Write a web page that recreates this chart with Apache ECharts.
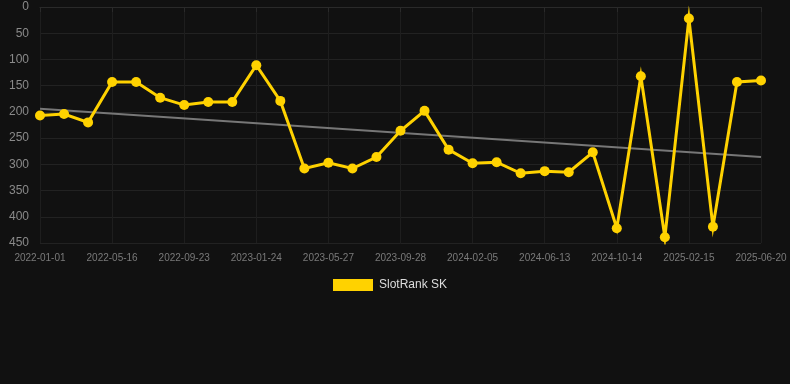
<!DOCTYPE html>
<html>
<head>
<meta charset="utf-8">
<script src="https://cdn.jsdelivr.net/npm/echarts@6/dist/echarts.min.js"></script>
<style>
html,body{margin:0;padding:0;background:#111111;}
#chart{width:790px;height:384px;}
</style>
</head>
<body>
<div id="chart"></div>
<script>
var categories = [
  "2022-01-01","2022-02-15","2022-03-31","2022-05-16","2022-06-28","2022-08-10",
  "2022-09-23","2022-11-03","2022-12-14","2023-01-24","2023-03-06","2023-04-16",
  "2023-05-27","2023-07-08","2023-08-18","2023-09-28","2023-11-10","2023-12-23",
  "2024-02-05","2024-03-18","2024-05-01","2024-06-13","2024-07-24","2024-09-03",
  "2024-10-14","2024-11-25","2025-01-05","2025-02-15","2025-03-29","2025-05-09",
  "2025-06-20"
];
var rankValues = [
  207, 204, 220, 143, 143, 173, 187, 181, 181, 111, 179, 308,
  297, 308, 286, 236, 198, 272, 298, 296, 317, 313, 315, 277,
  422, 132, 439, 22, 419, 143, 140
];
var trendValues = [194, 286];
var seriesName = "SlotRank SK";

var trendData = [[categories[0], trendValues[0]], [categories[categories.length - 1], trendValues[1]]];

var chart = echarts.init(document.getElementById('chart'));
chart.setOption({
  backgroundColor: '#111111',
  animation: false,
  textStyle: { fontFamily: 'Liberation Sans, Arial, sans-serif' },
  grid: { left: 40, right: 29, top: 7, bottom: 141 },
  legend: {
    data: [{ name: seriesName, icon: 'rect' }],
    top: 274,
    left: 328,
    itemWidth: 40,
    itemHeight: 12,
    itemGap: 10,
    textStyle: { color: '#dddddd', fontSize: 12, padding: [0, 0, 0, 1] }
  },
  xAxis: {
    type: 'category',
    data: categories,
    boundaryGap: false,
    axisLine: { show: true, lineStyle: { color: '#2a2a2a' } },
    axisTick: { show: true, interval: 2, lineStyle: { color: '#2a2a2a' } },
    axisLabel: { interval: 2, color: '#7a7a7a', fontSize: 10, margin: 10 },
    splitLine: { show: true, interval: 2, lineStyle: { color: '#1e1e1e' } }
  },
  yAxis: {
    type: 'value',
    inverse: true,
    min: 0,
    max: 450,
    interval: 50,
    axisLine: { show: false },
    axisTick: { show: false },
    axisLabel: { color: '#8a8a8a', fontSize: 12, margin: 11 },
    splitLine: { show: true, lineStyle: { color: '#222222' } }
  },
  series: [
    {
      name: seriesName,
      type: 'line',
      data: rankValues,
      color: '#FFD200',
      symbol: 'circle',
      symbolSize: 10,
      lineStyle: { width: 3, color: '#FFD200', join: 'miter', miterLimit: 10 },
      itemStyle: { color: '#FFD200' },
      z: 3
    },
    {
      name: 'trend',
      type: 'line',
      data: trendData,
      symbol: 'none',
      silent: true,
      lineStyle: { width: 2, color: '#777777' },
      z: 2
    }
  ]
});
</script>
</body>
</html>
